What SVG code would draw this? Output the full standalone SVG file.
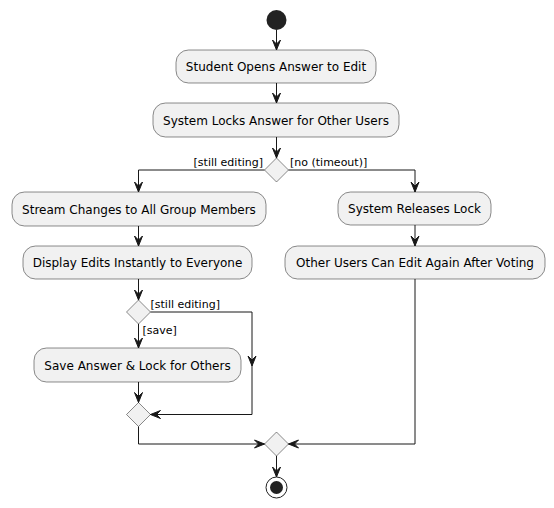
<svg xmlns="http://www.w3.org/2000/svg" width="554" height="508" viewBox="0 0 554 508">
<defs>
<style>
.box{fill:#F1F1F1;stroke:#181818;stroke-width:0.5}
.dia{fill:#F1F1F1;stroke:#181818;stroke-width:0.5}
.t{font-family:"DejaVu Sans",sans-serif;font-size:12px;fill:#000;text-anchor:middle}
.l{font-family:"DejaVu Sans",sans-serif;font-size:11px;fill:#000}
.c{fill:none;stroke:#181818;stroke-width:1}
.ah{fill:#181818;stroke:#181818;stroke-width:1}
</style>
</defs>
<rect width="554" height="508" fill="#FFFFFF"/>
<g id="start"><circle cx="276.5" cy="20" r="10" fill="#222222"/></g>
<g id="n1"><rect class="box" x="176" y="50" width="200" height="33" rx="12.5"/><text class="t" x="276" y="71">Student Opens Answer to Edit</text></g>
<g id="n2"><rect class="box" x="153" y="103" width="246" height="34" rx="12.5"/><text class="t" x="276" y="124.5">System Locks Answer for Other Users</text></g>
<g id="d1"><polygon class="dia" points="276.5,158 288.5,170 276.5,182 264.5,170"/></g>
<g id="n3"><rect class="box" x="12" y="192" width="254" height="34" rx="12.5"/><text class="t" x="139" y="213.5">Stream Changes to All Group Members</text></g>
<g id="n4"><rect class="box" x="23" y="246" width="229" height="33" rx="12.5"/><text class="t" x="137.5" y="267">Display Edits Instantly to Everyone</text></g>
<g id="d2"><polygon class="dia" points="138.5,300 150.5,312 138.5,324 126.5,312"/></g>
<g id="n5"><rect class="box" x="34" y="348" width="207" height="34" rx="12.5"/><text class="t" x="137.5" y="369.5">Save Answer &amp; Lock for Others</text></g>
<g id="d3"><polygon class="dia" points="138.5,402.5 150.5,414.5 138.5,426.5 126.5,414.5"/></g>
<g id="n6"><rect class="box" x="338" y="192" width="153" height="33" rx="12.5"/><text class="t" x="414.5" y="213">System Releases Lock</text></g>
<g id="n7"><rect class="box" x="285" y="246" width="260" height="33" rx="12.5"/><text class="t" x="415" y="267">Other Users Can Edit Again After Voting</text></g>
<g id="d4"><polygon class="dia" points="276.5,432 288.5,444 276.5,456 264.5,444"/></g>
<g id="end"><circle cx="276.5" cy="487.5" r="10.5" fill="none" stroke="#222222" stroke-width="1"/><circle cx="276.5" cy="487.5" r="6.5" fill="#222222"/></g>
<g id="connectors">
<path class="c" d="M276.5,30 V50"/><polygon class="ah" points="272.5,40 276.5,50 280.5,40 276.5,44"/>
<path class="c" d="M276.5,83 V103"/><polygon class="ah" points="272.5,93 276.5,103 280.5,93 276.5,97"/>
<path class="c" d="M276.5,137 V158"/><polygon class="ah" points="272.5,148 276.5,158 280.5,148 276.5,152"/>
<path class="c" d="M264.5,170 H138.5 V192"/><polygon class="ah" points="134.5,182 138.5,192 142.5,182 138.5,186"/>
<path class="c" d="M288.5,170 H415 V192"/><polygon class="ah" points="411,182 415,192 419,182 415,186"/>
<path class="c" d="M138.5,226 V246"/><polygon class="ah" points="134.5,236 138.5,246 142.5,236 138.5,240"/>
<path class="c" d="M138.5,279 V300"/><polygon class="ah" points="134.5,290 138.5,300 142.5,290 138.5,294"/>
<path class="c" d="M138.5,324 V348"/><polygon class="ah" points="134.5,338 138.5,348 142.5,338 138.5,342"/>
<path class="c" d="M150.5,312 H252 V414.5 H150.5"/><polygon class="ah" points="248,356 252,366 256,356 252,360"/><polygon class="ah" points="160.5,410.5 150.5,414.5 160.5,418.5 156.5,414.5"/>
<path class="c" d="M138.5,382 V402.5"/><polygon class="ah" points="134.5,392.5 138.5,402.5 142.5,392.5 138.5,396.5"/>
<path class="c" d="M415,225 V246"/><polygon class="ah" points="411,236 415,246 419,236 415,240"/>
<path class="c" d="M138.5,426.5 V444 H264.5"/><polygon class="ah" points="254.5,440 264.5,444 254.5,448 258.5,444"/>
<path class="c" d="M415,279 V444 H288.5"/><polygon class="ah" points="298.5,440 288.5,444 298.5,448 294.5,444"/>
<path class="c" d="M276.5,456 V477"/><polygon class="ah" points="272.5,467 276.5,477 280.5,467 276.5,471"/>
<text class="l" x="263" y="166" text-anchor="end">[still editing]</text>
<text class="l" x="290" y="166">[no (timeout)]</text>
<text class="l" x="150.5" y="308">[still editing]</text>
<text class="l" x="142.5" y="334">[save]</text>
</g>
</svg>
